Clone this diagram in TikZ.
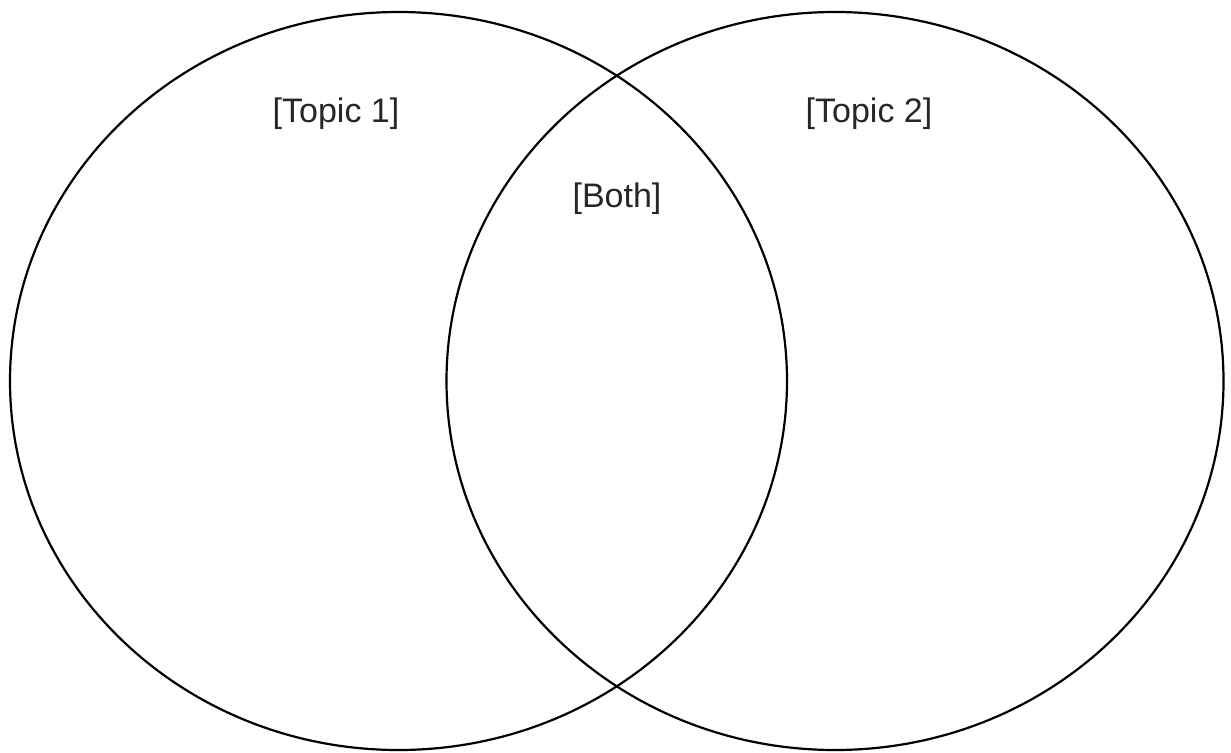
\documentclass[tikz,border=0pt]{standalone}
\usepackage{fontspec}
\setmainfont{Liberation Sans}
\usetikzlibrary{shapes.geometric}
\begin{document}
\begin{tikzpicture}[x=1pt,y=-1pt,
  setcircle/.style={draw=black, line width=2.2pt, ellipse, inner sep=0pt,
    minimum width=777pt, minimum height=738pt},
  label/.style={font=\fontsize{34}{40}\selectfont, anchor=base, inner sep=0pt, text=black!85}]
\useasboundingbox (0,0) rectangle (1231,752);
\node[setcircle] (left) at (398.5,381) {};
\node[setcircle] (right) at (835,381) {};
\node[label] (t1) at (336,122) {[Topic 1]};
\node[label] (t2) at (869,122) {[Topic 2]};
\node[label] (both) at (617,207) {[Both]};
\end{tikzpicture}
\end{document}
